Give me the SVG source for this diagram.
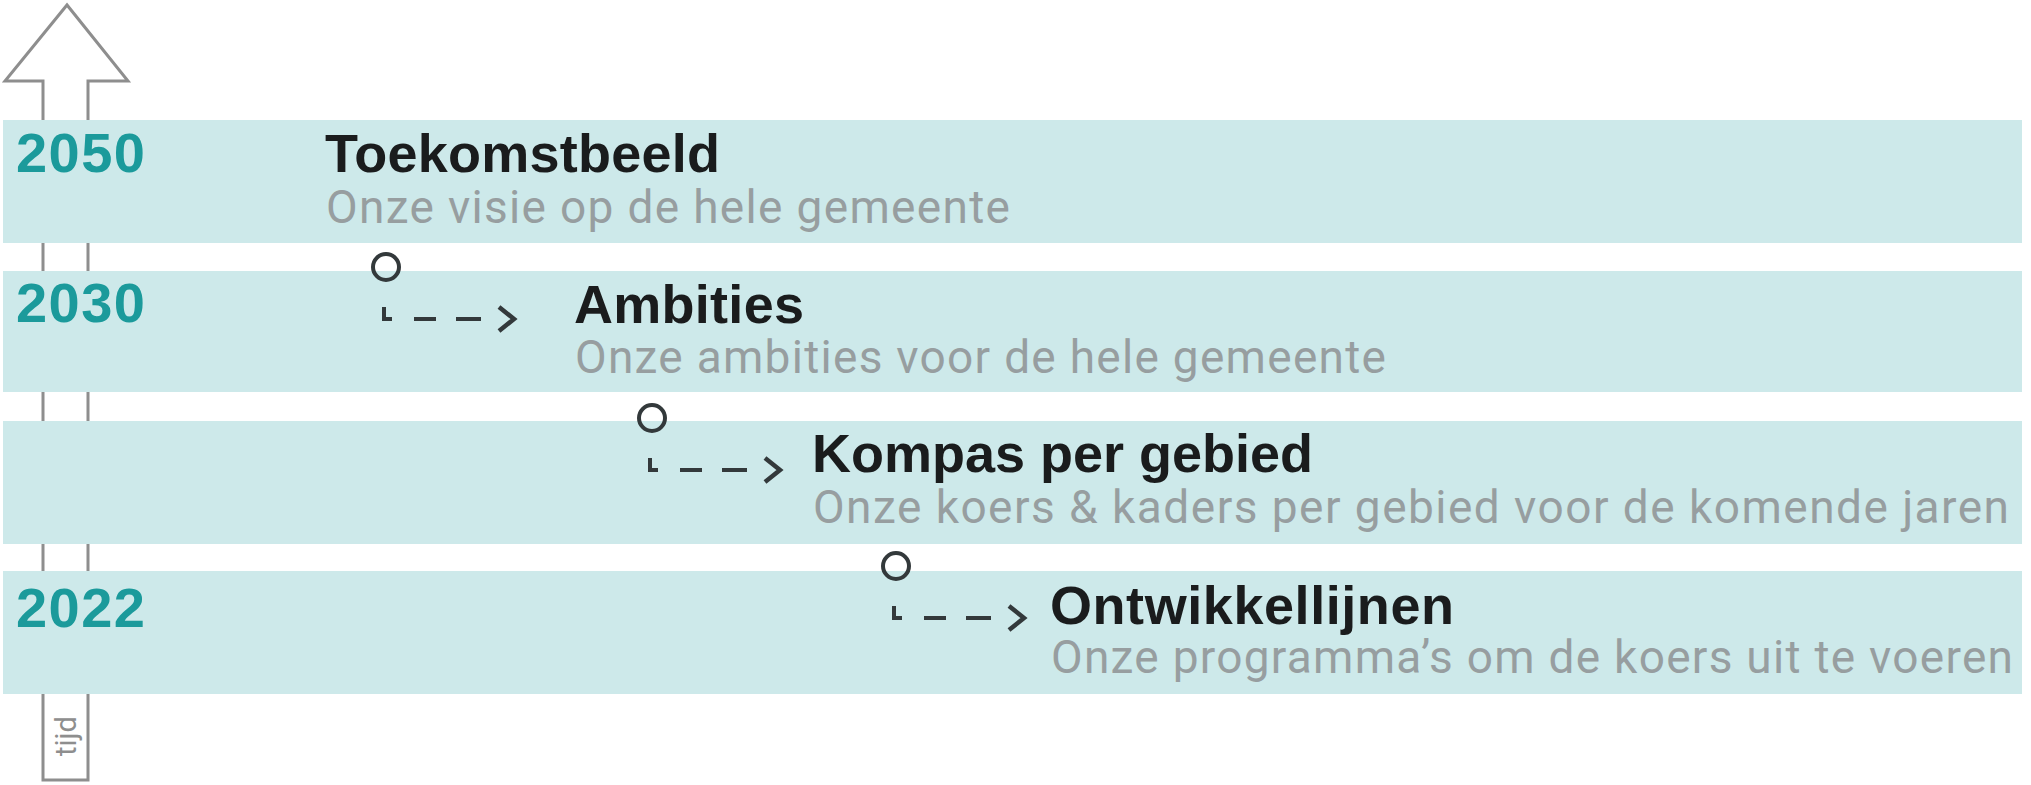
<svg xmlns="http://www.w3.org/2000/svg" width="2031" height="785" viewBox="0 0 2031 785">
<style>
.band{fill:#cde9ea}
.year{font-family:"Liberation Sans",Arial,sans-serif;font-weight:bold;font-size:56px;fill:#1b9a9b}
.title{font-family:"Liberation Sans",Arial,sans-serif;font-weight:bold;font-size:54px;fill:#1a1c1d}
.sub{font-family:Roboto,"Liberation Sans",sans-serif;font-weight:normal;font-size:46px;fill:#979ea0}
.axis{fill:#fff;stroke:#8e8e8e;stroke-width:3}
.axislabel{font-family:Roboto,"Liberation Sans",sans-serif;font-size:29px;fill:#8e8e8e}
.dot{fill:none;stroke:#33393b;stroke-width:4}
.link{fill:none;stroke:#33393b;stroke-width:4;stroke-dasharray:20 22 22 20 25 200;marker-end:url(#chev)}
</style>
<defs>
<marker id="chev" markerUnits="userSpaceOnUse" viewBox="-20 -16 24 32" refX="0" refY="0" markerWidth="24" markerHeight="32" orient="auto" overflow="visible">
<path d="M-15,-12 L0,0 L-15,12" fill="none" stroke="#33393b" stroke-width="4.5"/>
</marker>
</defs>
<g id="time-axis">
<path class="axis" d="M43,780 V81 H5 L67,5 L128,81 H88 V780 Z"/>
<text class="axislabel" transform="translate(76,736) rotate(-90)" text-anchor="middle">tijd</text>
</g>
<g id="row-toekomstbeeld">
<rect class="band" x="3" y="120" width="2019" height="123"/>
<text class="year" x="16" y="172" textLength="129">2050</text>
<text class="title" x="325" y="172" textLength="395">Toekomstbeeld</text>
<text class="sub" x="326" y="223" textLength="684">Onze visie op de hele gemeente</text>
</g>
<g id="row-ambities">
<rect class="band" x="3" y="271" width="2019" height="121"/>
<text class="year" x="16" y="322" textLength="129">2030</text>
<text class="title" x="574" y="323" textLength="230">Ambities</text>
<text class="sub" x="575" y="373" textLength="811">Onze ambities voor de hele gemeente</text>
</g>
<g id="row-kompas">
<rect class="band" x="3" y="421" width="2019" height="123"/>
<text class="title" x="812" y="472" textLength="501">Kompas per gebied</text>
<text class="sub" x="813" y="523" textLength="1196">Onze koers &amp; kaders per gebied voor de komende jaren</text>
</g>
<g id="row-ontwikkellijnen">
<rect class="band" x="3" y="571" width="2019" height="123"/>
<text class="year" x="16" y="627" textLength="129">2022</text>
<text class="title" x="1050" y="624" textLength="404">Ontwikkellijnen</text>
<text class="sub" x="1051" y="673" textLength="962">Onze programma’s om de koers uit te voeren</text>
</g>
<g id="connectors">
<circle class="dot" cx="386" cy="267" r="13"/>
<path class="link" d="M384,307 V319 H514"/>
<circle class="dot" cx="652" cy="418" r="13"/>
<path class="link" d="M650,458 V470 H780"/>
<circle class="dot" cx="896" cy="566" r="13"/>
<path class="link" d="M894,606 V618 H1024"/>
</g>
</svg>
